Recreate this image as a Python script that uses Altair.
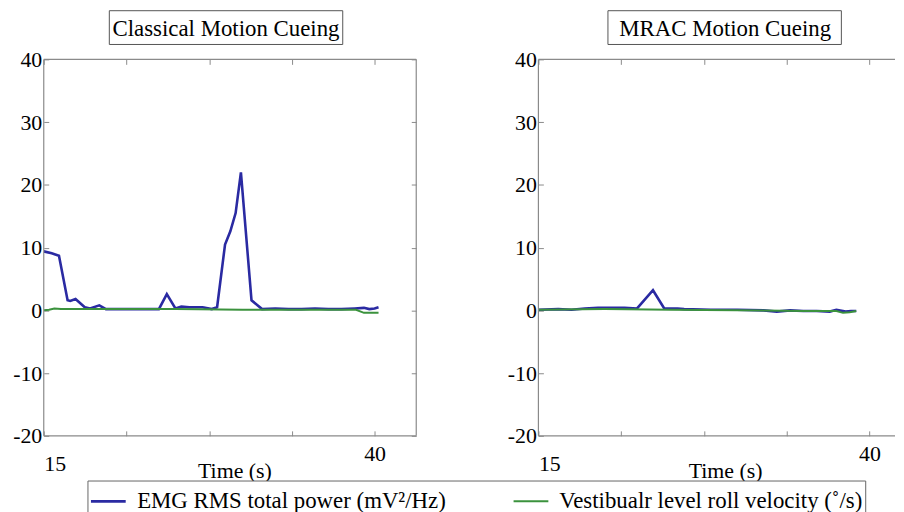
import altair as alt
import pandas as pd

EMG = "EMG RMS total power (mV²/Hz)"
VEST = "Vestibualr level roll velocity (˚/s)"
series_names = [EMG, VEST]

panel_titles = ["Classical Motion Cueing", "MRAC Motion Cueing"]
x_axis_title = "Time (s)"
x_tick_values = [15, 21.25, 27.5, 33.75, 40]
x_tick_labels = [15, 40]
y_tick_values = [-20, -10, 0, 10, 20, 30, 40]

# Classical motion cueing
classical_emg_t = [15.0, 15.6, 16.15, 16.8, 17.0, 17.4, 18.1, 18.5, 19.2, 19.7, 20.5, 22.0,
                   23.7, 24.3, 24.95, 25.4, 26.0, 27.0, 27.7, 28.1, 28.7, 29.1, 29.5, 29.9,
                   30.7, 31.5, 32.5, 33.5, 34.5, 35.5, 36.5, 37.5, 38.5, 39.2, 39.6, 40.0, 40.3]
classical_emg_v = [9.4, 9.1, 8.7, 1.6, 1.5, 1.8, 0.5, 0.3, 0.8, 0.2, 0.2, 0.2,
                   0.2, 2.6, 0.3, 0.6, 0.5, 0.5, 0.2, 0.5, 10.5, 12.6, 15.5, 22.0,
                   1.6, 0.2, 0.3, 0.2, 0.2, 0.3, 0.2, 0.2, 0.3, 0.4, 0.2, 0.3, 0.5]
classical_vest_t = [15.0, 15.4, 15.8, 16.3, 17.0, 20.0, 25.0, 30.0, 35.0, 38.6, 39.2, 40.3]
classical_vest_v = [0.0, 0.1, 0.3, 0.2, 0.2, 0.2, 0.2, 0.1, 0.1, 0.1, -0.4, -0.4]

# MRAC motion cueing
mrac_emg_t = [15.0, 16.5, 17.5, 18.5, 19.5, 20.5, 21.5, 22.45, 23.65, 24.5, 25.5, 26.0,
              28.0, 30.0, 32.0, 33.0, 34.0, 35.0, 36.0, 37.0, 37.5, 38.2, 38.6, 39.0]
mrac_emg_v = [0.1, 0.2, 0.1, 0.3, 0.4, 0.4, 0.4, 0.3, 3.2, 0.3, 0.3, 0.2,
              0.1, 0.1, 0.0, -0.2, 0.0, -0.1, -0.1, -0.2, 0.1, -0.2, -0.1, -0.1]
mrac_vest_t = [15.0, 20.0, 25.0, 30.0, 35.0, 37.5, 38.0, 38.5, 39.0]
mrac_vest_v = [0.1, 0.2, 0.1, 0.0, -0.1, -0.1, -0.4, -0.3, -0.1]

FONT = "Liberation Serif"
BLUE = "#2a2aa2"
GREEN = "#3b923d"
FRAME = "#8a8a8a"
H = 379


def make_df(emg_t, emg_v, vest_t, vest_v):
    rows = [{"series": EMG, "t": t, "v": v} for t, v in zip(emg_t, emg_v)]
    rows += [{"series": VEST, "t": t, "v": v} for t, v in zip(vest_t, vest_v)]
    return pd.DataFrame(rows)


color_scale = alt.Scale(domain=series_names, range=[BLUE, GREEN])
width_scale = alt.Scale(domain=series_names, range=[2.6, 2.0])
legend = alt.Legend(
    orient="none", legendX=44, legendY=424, direction="horizontal", title=None,
    strokeColor="#666", fillColor="white", padding=2,
    labelFont=FONT, labelFontSize=23, labelColor="black", labelLimit=600,
    symbolType="stroke", symbolSize=1225, symbolStrokeWidth=2,
    labelOffset=10, columnPadding=64,
)
one = pd.DataFrame({"k": [0]})


def panel(df, W, x_max, title, title_x, box_x0, box_x1, axis_title_x, right_ticks):
    xs = alt.Scale(domain=[15, x_max], nice=False, zero=False)
    ys = alt.Scale(domain=[-20, 40], nice=False, zero=False)
    bottom_axis = alt.Axis(
        orient="bottom", values=x_tick_values, domain=False, grid=False,
        tickSize=5, offset=-5, tickColor=FRAME, labelPadding=18,
        labelExpr="datum.value == 15 || datum.value == 40 ? datum.value + '' : ''",
        labelFlush=True,
        labelBaseline={"condition": {"test": "datum.value == 40", "value": "middle"}, "value": "top"},
        title=x_axis_title, titlePadding=-14, titleX=axis_title_x,
        titleFont=FONT, titleFontSize=22, titleFontWeight="normal", titleColor="black",
    )
    left_axis = alt.Axis(
        orient="left", values=y_tick_values, domain=False, grid=False,
        tickSize=5, offset=-5, tickColor=FRAME, labelPadding=2, title=None,
        labelExpr="datum.value + ''",
    )
    top_axis = alt.Axis(
        orient="top", values=x_tick_values, domain=False, grid=False, labels=False,
        tickSize=5, offset=-5, tickColor=FRAME, title=None,
    )
    right_axis = alt.Axis(
        orient="right", values=y_tick_values, domain=False, grid=False, labels=False,
        tickSize=5, offset=-5, tickColor=FRAME, title=None,
    )
    lines = alt.Chart(df).mark_line(clip=True).encode(
        x=alt.X("t:Q", scale=xs, axis=bottom_axis),
        y=alt.Y("v:Q", scale=ys, axis=left_axis),
        color=alt.Color("series:N", scale=color_scale, legend=legend),
        strokeWidth=alt.StrokeWidth("series:N", scale=width_scale, legend=None),
    )
    tick_layer = alt.Chart(df).mark_line(opacity=0).encode(
        x=alt.X("t:Q", scale=xs, axis=top_axis),
        y=alt.Y("v:Q", scale=ys, axis=right_axis if right_ticks else None),
    )
    edges = [
        alt.Chart(one).mark_rule(color=FRAME, strokeWidth=1.2).encode(
            x=alt.value(0), y=alt.value(0), y2=alt.value(H)),
        alt.Chart(one).mark_rule(color=FRAME, strokeWidth=1.2).encode(
            x=alt.value(0), x2=alt.value(W), y=alt.value(0)),
        alt.Chart(one).mark_rule(color=FRAME, strokeWidth=1.2).encode(
            x=alt.value(0), x2=alt.value(W), y=alt.value(H)),
    ]
    if right_ticks:
        edges.append(alt.Chart(one).mark_rule(color=FRAME, strokeWidth=1.2).encode(
            x=alt.value(W), y=alt.value(0), y2=alt.value(H)))
    box = alt.Chart(one).mark_rect(fillOpacity=0, stroke="#555", strokeWidth=1).encode(
        x=alt.value(box_x0), x2=alt.value(box_x1), y=alt.value(-49), y2=alt.value(-15))
    text = alt.Chart(one).mark_text(font=FONT, fontSize=23, align="center",
                                    baseline="middle", color="black").encode(
        x=alt.value(title_x), y=alt.value(-31), text=alt.value(title))
    return alt.layer(lines, tick_layer, *edges, box, text).resolve_axis(
        x="independent", y="independent").properties(width=W, height=H)


left = panel(make_df(classical_emg_t, classical_emg_v, classical_vest_t, classical_vest_v),
             375, 43.15, panel_titles[0], 183.5, 66, 301, 192, True)
right = panel(make_df(mrac_emg_t, mrac_emg_v, mrac_vest_t, mrac_vest_v),
              359, 15 + 359 * 0.075, panel_titles[1], 188, 70, 305, 188, False)

chart = alt.hconcat(left, right, spacing=90).resolve_scale(
    color="shared", strokeWidth="shared", x="independent", y="independent"
).properties(
    padding={"left": 4, "top": 0, "right": 0, "bottom": 0}
).configure(font=FONT).configure_view(stroke=None).configure_axis(
    labelFont=FONT, labelFontSize=22, labelColor="black", tickWidth=1
)

chart.save("out.html", embed_options={"renderer": "svg", "actions": False})
